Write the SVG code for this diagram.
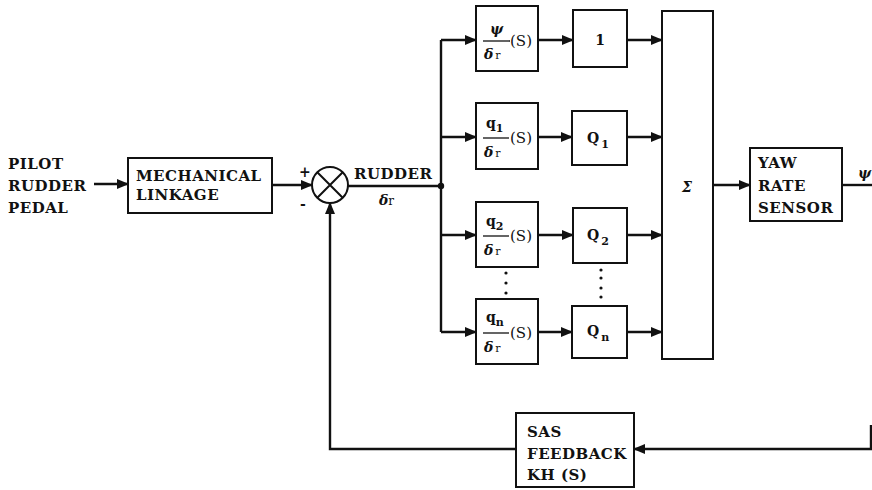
<svg xmlns="http://www.w3.org/2000/svg" width="872" height="490" viewBox="0 0 872 490">
<style>
  .box { fill: #fff; stroke: #111; stroke-width: 2; }
  .ln { fill: none; stroke: #111; stroke-width: 2.4; }
  .t { font-family: "DejaVu Serif", "Liberation Serif", serif; font-weight: bold; font-size: 15px; letter-spacing: 0.5px; fill: #111; }
  .m { font-family: "DejaVu Serif", "Liberation Serif", serif; font-weight: bold; font-size: 14px; fill: #111; }
  .s { font-family: "DejaVu Serif", "Liberation Serif", serif; font-weight: normal; font-size: 15px; fill: #111; }
  .it { font-style: italic; }
  .sub { font-size: 11px; }
</style>
<defs>
  <marker id="ah" markerUnits="userSpaceOnUse" markerWidth="12" markerHeight="10" refX="11" refY="5" orient="auto">
    <path d="M0,0 L12,5 L0,10 Z" fill="#111"/>
  </marker>
</defs>

<rect width="872" height="490" fill="#fff"/>

<g id="connectors">
  <path class="ln" d="M94,184 H128" marker-end="url(#ah)"/>
  <path class="ln" d="M272,185 H312" marker-end="url(#ah)"/>
  <path class="ln" d="M348,186 H441"/>
  <circle cx="441" cy="186" r="3.2" fill="#111"/>
  <path class="ln" d="M441,40 V332"/>
  <path class="ln" d="M441,40 H476" marker-end="url(#ah)"/>
  <path class="ln" d="M441,137 H476" marker-end="url(#ah)"/>
  <path class="ln" d="M441,235 H476" marker-end="url(#ah)"/>
  <path class="ln" d="M441,332 H476" marker-end="url(#ah)"/>
  <path class="ln" d="M538,40 H573" marker-end="url(#ah)"/>
  <path class="ln" d="M538,137 H572" marker-end="url(#ah)"/>
  <path class="ln" d="M538,235 H573" marker-end="url(#ah)"/>
  <path class="ln" d="M538,332 H572" marker-end="url(#ah)"/>
  <path class="ln" d="M627,40 H662" marker-end="url(#ah)"/>
  <path class="ln" d="M627,137 H662" marker-end="url(#ah)"/>
  <path class="ln" d="M627,235 H662" marker-end="url(#ah)"/>
  <path class="ln" d="M627,332 H662" marker-end="url(#ah)"/>
  <path class="ln" d="M713,185 H750" marker-end="url(#ah)"/>
  <path class="ln" d="M842,185 H872"/>
  <path class="ln" d="M871,425 V449 H634" marker-end="url(#ah)"/>
  <path class="ln" d="M516,449 H330 V203" marker-end="url(#ah)"/>
  <g fill="#111">
    <circle cx="506" cy="273" r="1.6"/><circle cx="506" cy="283" r="1.6"/><circle cx="506" cy="293" r="1.6"/>
    <circle cx="601" cy="270" r="1.6"/><circle cx="601" cy="278" r="1.6"/><circle cx="601" cy="288" r="1.6"/><circle cx="601" cy="297" r="1.6"/>
  </g>
</g>

<g id="input-label">
  <text class="t" x="8" y="169">PILOT</text>
  <text class="t" x="8" y="191">RUDDER</text>
  <text class="t" x="8" y="213">PEDAL</text>
</g>

<g id="mechanical-linkage">
  <rect class="box" x="128" y="158" width="144" height="55"/>
  <text class="t" x="136" y="181">MECHANICAL</text>
  <text class="t" x="136" y="200">LINKAGE</text>
</g>

<g id="summing-junction">
  <circle cx="330" cy="185" r="18" fill="#fff" stroke="#111" stroke-width="2"/>
  <path d="M317.3,172.3 L342.7,197.7 M342.7,172.3 L317.3,197.7" stroke="#111" stroke-width="2"/>
  <text class="m" x="299" y="177" font-size="12">+</text>
  <text class="m" x="300" y="209" font-size="12">-</text>
</g>

<g id="rudder-label">
  <text class="t" x="354" y="179">RUDDER</text>
  <text class="m" x="379" y="205"><tspan class="it">δ</tspan><tspan font-weight="normal" font-size="12">r</tspan></text>
</g>

<g id="tf-psi">
  <rect class="box" x="476" y="6" width="62" height="65"/>
  <text class="m it" x="490" y="34" font-size="16">ψ</text>
  <line x1="483" y1="41" x2="510" y2="41" stroke="#111" stroke-width="1.3"/>
  <text class="m" x="484" y="59"><tspan class="it">δ</tspan><tspan dx="2" font-weight="normal" font-size="11">r</tspan></text>
  <text class="s" x="510" y="46">(S)</text>
</g>
<g id="tf-q1">
  <rect class="box" x="476" y="103" width="62" height="66"/>
  <text class="m" x="486" y="128">q<tspan class="sub" dy="4">1</tspan></text>
  <line x1="483" y1="138" x2="509" y2="138" stroke="#111" stroke-width="1.3"/>
  <text class="m" x="484" y="157"><tspan class="it">δ</tspan><tspan dx="2" font-weight="normal" font-size="11">r</tspan></text>
  <text class="s" x="510" y="143">(S)</text>
</g>
<g id="tf-q2">
  <rect class="box" x="476" y="202" width="62" height="65"/>
  <text class="m" x="486" y="226">q<tspan class="sub" dy="4">2</tspan></text>
  <line x1="483" y1="236" x2="509" y2="236" stroke="#111" stroke-width="1.3"/>
  <text class="m" x="484" y="255"><tspan class="it">δ</tspan><tspan dx="2" font-weight="normal" font-size="11">r</tspan></text>
  <text class="s" x="510" y="241">(S)</text>
</g>
<g id="tf-qn">
  <rect class="box" x="476" y="299" width="62" height="65"/>
  <text class="m" x="486" y="322">q<tspan class="sub" dy="4">n</tspan></text>
  <line x1="483" y1="333" x2="509" y2="333" stroke="#111" stroke-width="1.3"/>
  <text class="m" x="484" y="352"><tspan class="it">δ</tspan><tspan dx="2" font-weight="normal" font-size="11">r</tspan></text>
  <text class="s" x="510" y="338">(S)</text>
</g>

<g id="gain-1">
  <rect class="box" x="573" y="10" width="54" height="57"/>
  <text class="m" x="600" y="45" text-anchor="middle" font-size="15">1</text>
</g>
<g id="gain-Q1">
  <rect class="box" x="572" y="111" width="55" height="54"/>
  <text class="m" x="587" y="143" font-size="15">Q<tspan class="sub" dx="2" dy="5">1</tspan></text>
</g>
<g id="gain-Q2">
  <rect class="box" x="573" y="208" width="54" height="55"/>
  <text class="m" x="587" y="240" font-size="15">Q<tspan class="sub" dx="2" dy="5">2</tspan></text>
</g>
<g id="gain-Qn">
  <rect class="box" x="572" y="306" width="55" height="52"/>
  <text class="m" x="587" y="336" font-size="15">Q<tspan class="sub" dx="2" dy="5">n</tspan></text>
</g>

<g id="sigma">
  <rect class="box" x="662" y="11" width="51" height="348"/>
  <text class="m it" x="687" y="192" text-anchor="middle" font-size="16">Σ</text>
</g>

<g id="yaw-rate-sensor">
  <rect class="box" x="750" y="148" width="92" height="73"/>
  <text class="t" x="758" y="168">YAW</text>
  <text class="t" x="758" y="191">RATE</text>
  <text class="t" x="758" y="213" letter-spacing="0">SENSOR</text>
</g>

<g id="output-label">
  <text class="m it" x="858" y="178" font-size="13">ψ</text>
</g>

<g id="sas-feedback">
  <rect class="box" x="516" y="413" width="118" height="74"/>
  <text class="t" x="527" y="437">SAS</text>
  <text class="t" x="527" y="459" letter-spacing="0">FEEDBACK</text>
  <text class="t" x="527" y="480">KH (S)</text>
</g>
</svg>
